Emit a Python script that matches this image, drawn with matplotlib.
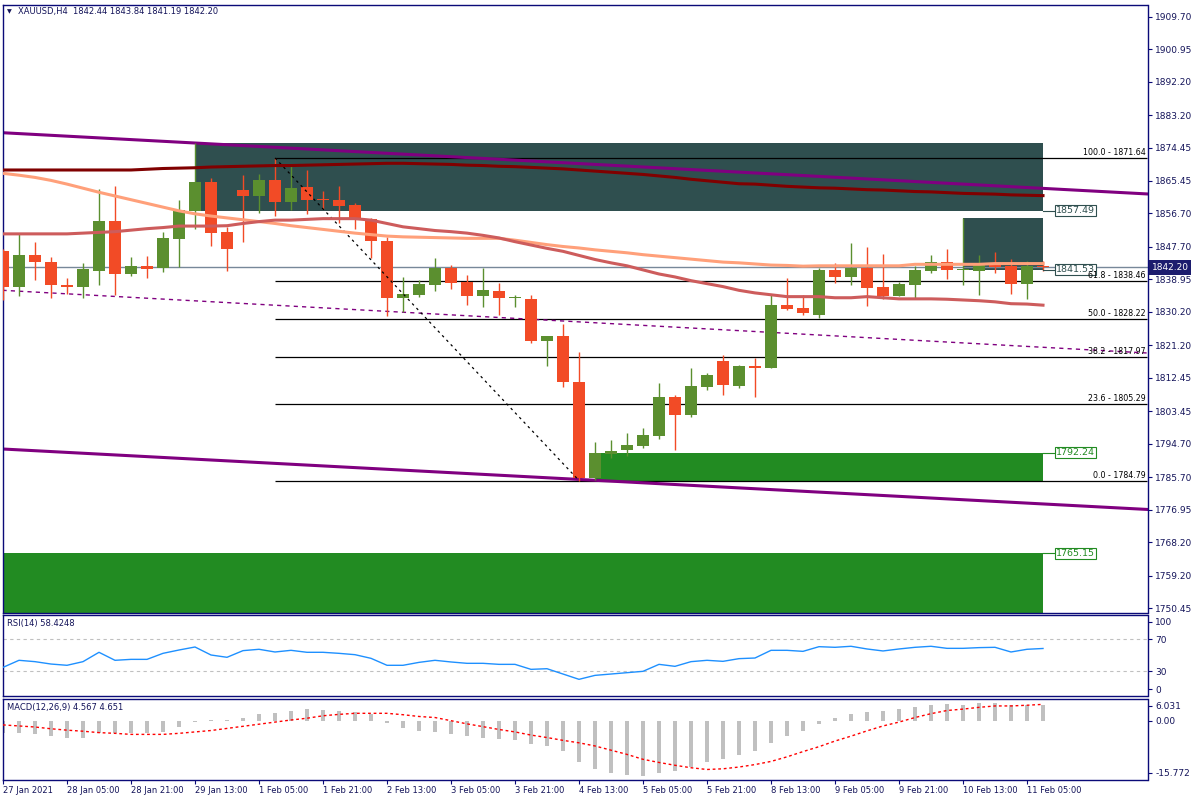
import matplotlib
matplotlib.use("Agg")
import matplotlib.pyplot as plt
from matplotlib.patches import Rectangle
import matplotlib.transforms as mtrans

plt.rcParams['font.family'] = ['DejaVu Sans']

# ---------------- data ----------------
symbol_header = "XAUUSD,H4  1842.44 1843.84 1841.19 1842.20"
rsi_header = "RSI(14) 58.4248"
macd_header = "MACD(12,26,9) 4.567 4.651"

time_tick_bars = [0, 4, 8, 12, 16, 20, 24, 28, 32, 36, 40, 44, 48, 52, 56, 60, 64]
time_tick_labels = ['27 Jan 2021', '28 Jan 05:00', '28 Jan 21:00', '29 Jan 13:00',
                    '1 Feb 05:00', '1 Feb 21:00', '2 Feb 13:00', '3 Feb 05:00',
                    '3 Feb 21:00', '4 Feb 13:00', '5 Feb 05:00', '5 Feb 21:00',
                    '8 Feb 13:00', '9 Feb 05:00', '9 Feb 21:00', '10 Feb 13:00',
                    '11 Feb 05:00']

opens = [1846.6, 1837.0, 1845.5, 1843.6, 1837.5, 1837.0, 1841.3, 1854.7, 1840.5, 1842.6,
         1842.1, 1849.9, 1857.49, 1865.2, 1851.7, 1863.0, 1861.5, 1865.7, 1859.9, 1863.8,
         1860.6, 1860.3, 1859.0, 1855.2, 1849.3, 1834.0, 1834.7, 1837.5, 1842.1, 1838.3,
         1834.6, 1835.8, 1833.8, 1833.7, 1822.4, 1823.7, 1811.4, 1785.4, 1792.0, 1793.1,
         1794.2, 1796.9, 1807.3, 1802.5, 1810.1, 1817.0, 1810.3, 1815.6, 1815.2, 1832.1,
         1831.2, 1829.4, 1841.5, 1839.6, 1842.0, 1836.9, 1834.5, 1837.4, 1841.2, 1843.6,
         1841.53, 1841.2, 1843.1, 1842.6, 1837.7, 1842.44]
highs = [1847.1, 1851.2, 1849.0, 1845.0, 1839.3, 1843.4, 1863.3, 1864.1, 1845.0, 1845.2,
         1851.7, 1860.3, 1875.67, 1866.2, 1853.1, 1867.1, 1867.3, 1871.64, 1869.7, 1868.4,
         1862.7, 1864.1, 1859.5, 1855.5, 1850.4, 1839.6, 1838.8, 1844.7, 1842.8, 1840.1,
         1842.1, 1838.0, 1834.7, 1834.7, 1823.7, 1826.9, 1819.4, 1795.2, 1795.7, 1797.6,
         1798.9, 1811.1, 1807.8, 1815.1, 1813.7, 1818.6, 1815.9, 1817.9, 1835.0, 1839.3,
         1834.7, 1842.0, 1843.4, 1848.7, 1847.7, 1845.8, 1838.2, 1842.6, 1845.5, 1847.1,
         1855.47, 1845.5, 1846.3, 1844.4, 1843.9, 1843.84]
lows = [1833.4, 1834.6, 1838.9, 1833.8, 1834.9, 1834.0, 1837.5, 1834.8, 1839.9, 1839.4,
        1840.8, 1842.3, 1852.6, 1847.8, 1841.3, 1849.1, 1856.9, 1856.0, 1857.6, 1856.6,
        1857.9, 1854.1, 1852.5, 1844.7, 1829.2, 1830.2, 1834.3, 1835.8, 1836.4, 1832.1,
        1831.6, 1829.4, 1831.6, 1821.9, 1815.7, 1810.1, 1784.79, 1784.9, 1790.9, 1791.5,
        1793.6, 1796.1, 1793.1, 1802.0, 1809.2, 1807.9, 1809.8, 1807.4, 1815.0, 1830.7,
        1829.4, 1828.6, 1838.0, 1837.4, 1831.8, 1833.7, 1834.4, 1833.7, 1840.7, 1839.1,
        1837.4, 1834.7, 1840.7, 1835.0, 1833.7, 1841.19]
closes = [1837.0, 1845.5, 1843.7, 1837.3, 1837.0, 1841.7, 1854.7, 1840.5, 1842.6, 1841.8,
          1850.1, 1857.6, 1865.2, 1851.5, 1847.2, 1861.5, 1865.7, 1859.9, 1863.6, 1860.3,
          1860.3, 1858.8, 1854.9, 1849.4, 1833.8, 1835.0, 1837.7, 1842.1, 1838.1, 1834.6,
          1836.1, 1833.8, 1834.2, 1822.4, 1823.7, 1811.4, 1785.6, 1792.24, 1792.7, 1794.4,
          1797.1, 1807.3, 1802.5, 1810.2, 1813.2, 1810.6, 1815.6, 1815.2, 1832.1, 1831.0,
          1829.9, 1841.5, 1839.6, 1842.0, 1836.6, 1834.5, 1837.7, 1841.5, 1843.6, 1841.5,
          1841.75, 1843.1, 1842.3, 1837.7, 1842.44, 1842.20]

ma_slow = [1868.4, 1868.4, 1868.4, 1868.4, 1868.4, 1868.4, 1868.4, 1868.4, 1868.4, 1868.6,
           1868.8, 1868.9, 1869.0, 1869.2, 1869.3, 1869.4, 1869.5, 1869.6, 1869.6, 1869.7,
           1869.8, 1869.9, 1870.0, 1870.1, 1870.2, 1870.2, 1870.1, 1870.0, 1869.9, 1869.7,
           1869.6, 1869.4, 1869.3, 1869.1, 1868.9, 1868.7, 1868.4, 1868.1, 1867.8, 1867.5,
           1867.2, 1866.8, 1866.4, 1865.9, 1865.5, 1865.1, 1864.7, 1864.6, 1864.3, 1864.0,
           1863.8, 1863.6, 1863.5, 1863.3, 1863.1, 1863.0, 1862.8, 1862.6, 1862.5, 1862.3,
           1862.1, 1862.0, 1861.9, 1861.7, 1861.6, 1861.5]
ma_mid = [1867.5, 1867.0, 1866.4, 1865.6, 1864.6, 1863.5, 1862.4, 1861.4, 1860.4, 1859.4,
          1858.4, 1857.4, 1856.6, 1856.0, 1855.5, 1855.0, 1854.5, 1854.0, 1853.4, 1852.9,
          1852.4, 1851.9, 1851.4, 1851.0, 1850.6, 1850.4, 1850.3, 1850.2, 1850.1, 1850.0,
          1850.0, 1850.0, 1849.5, 1848.9, 1848.3, 1847.8, 1847.4, 1846.9, 1846.5, 1846.1,
          1845.6, 1845.2, 1844.8, 1844.4, 1844.0, 1843.6, 1843.4, 1843.1, 1842.8, 1842.7,
          1842.5, 1842.6, 1842.6, 1842.6, 1842.6, 1842.6, 1842.6, 1843.0, 1843.0, 1843.0,
          1843.0, 1843.0, 1843.2, 1843.2, 1843.2, 1843.2]
ma_fast = [1851.2, 1851.2, 1851.2, 1851.2, 1851.2, 1851.4, 1851.6, 1851.8, 1852.2, 1852.6,
           1852.9, 1853.3, 1853.3, 1853.3, 1853.4, 1854.0, 1854.5, 1854.9, 1854.9, 1855.1,
           1855.3, 1855.3, 1855.3, 1854.9, 1854.0, 1853.1, 1852.6, 1852.1, 1851.8, 1851.4,
           1850.8, 1850.1, 1849.1, 1848.2, 1847.3, 1846.5, 1845.4, 1844.3, 1843.4, 1842.6,
           1841.5, 1840.4, 1839.6, 1838.6, 1837.8, 1837.0, 1836.0, 1835.3, 1834.8, 1834.3,
           1834.3, 1834.3, 1834.0, 1834.0, 1834.3, 1834.0, 1833.7, 1833.7, 1833.7, 1833.6,
           1833.4, 1833.2, 1832.9, 1832.4, 1832.3, 1832.0]

rsi = [34.6, 43.5, 41.8, 38.8, 37.2, 41.8, 53.6, 43.5, 44.7, 44.7,
       52.3, 56.5, 60.3, 50.2, 47.3, 55.7, 57.4, 54.0, 56.1, 53.6,
       53.6, 52.3, 50.6, 46.0, 37.2, 37.2, 40.9, 43.5, 41.4, 39.7,
       39.7, 38.4, 38.4, 32.1, 32.9, 26.2, 19.5, 24.5, 26.2, 27.9,
       29.6, 38.4, 35.9, 41.8, 43.5, 42.2, 45.6, 46.4, 56.1, 56.1,
       54.8, 60.7, 59.9, 61.2, 57.8, 55.3, 57.8, 59.9, 61.2, 58.6,
       58.6, 59.5, 59.9, 54.0, 57.4, 58.4248]
rsi_levels = [70, 30]

macd_main = [-3.4, -3.4, -3.8, -4.3, -4.8, -4.8, -3.6, -3.6, -3.6, -3.6,
             -3.1, -1.7, -0.4, 0.2, 0.2, 0.9, 1.9, 2.3, 2.8, 3.2,
             3.0, 2.8, 2.5, 1.8, -0.8, -2.1, -2.9, -3.2, -3.7, -4.4,
             -4.8, -5.2, -5.4, -6.7, -7.2, -8.6, -11.8, -13.7, -14.9, -15.4,
             -15.7, -14.9, -14.3, -13.1, -11.7, -10.8, -9.8, -8.6, -6.3, -4.4,
             -2.9, -1.0, 0.9, 1.9, 2.5, 2.8, 3.4, 3.9, 4.5, 4.8,
             4.6, 4.9, 4.9, 4.6, 4.6, 4.567]
macd_signal = [-1.2, -1.5, -1.8, -2.3, -2.7, -3.0, -3.4, -3.6, -3.9, -3.9,
               -3.9, -3.6, -3.2, -2.8, -2.2, -1.6, -1.0, -0.4, 0.2, 0.7,
               1.4, 1.8, 2.1, 2.1, 2.1, 1.7, 1.2, 0.9, 0.0, -0.9,
               -1.7, -2.5, -3.2, -4.1, -4.8, -5.6, -6.3, -7.2, -8.4, -9.6,
               -11.0, -11.9, -12.7, -13.4, -13.9, -13.7, -13.2, -12.5, -11.6, -10.3,
               -8.8, -7.4, -5.8, -4.4, -2.9, -1.5, -0.4, 0.9, 2.0, 2.9,
               3.3, 3.8, 4.2, 4.2, 4.4, 4.651]

# trendline anchors: (bar, price) pairs
trend_upper = [(0, 1878.43), (65, 1863.45)]
trend_lower = [(0, 1793.27), (65, 1778.48)]
trend_dashed = [(0, 1836.0), (65, 1820.66)]

# fibonacci
fib_anchor_bars = [17, 36]
fib_ratios = ['100.0', '61.8', '50.0', '38.2', '23.6', '0.0']
fib_prices = [1871.64, 1838.46, 1828.22, 1817.97, 1805.29, 1784.79]

# zones: start bar, end bar, top, bottom, labelled price
zone_starts = [12, 60, 37, -5]
zone_ends = [65, 65, 65, 65]
zone_tops = [1875.67, 1855.47, 1792.24, 1765.15]
zone_bottoms = [1857.49, 1841.53, 1784.79, 1740.0]
zone_label_prices = [1857.49, 1841.53, 1792.24, 1765.15]
zone_kinds = ['supply', 'supply', 'demand', 'demand']

last_price = 1842.20
price_ticks = [1909.70, 1900.95, 1892.20, 1883.20, 1874.45, 1865.45, 1856.70, 1847.70,
               1838.95, 1830.20, 1821.20, 1812.45, 1803.45, 1794.70, 1785.70, 1776.95,
               1768.20, 1759.20, 1750.45]

# ---------------- style ----------------
W, H = 1200, 800
NAVY = '#0a0a78'
TXT = '#14145a'
BULL = '#5b8f2f'
BEAR = '#f24b26'
SLATE = '#2f4f4f'
FOREST = '#228b22'
FS = 6
RIGHT_PX = 1147.5

fig = plt.figure(figsize=(12, 8), dpi=100)
fig.patch.set_facecolor('white')


def fx(p):
    return p / W


def fy(p):
    return 1 - p / H


def add_panel(top, bottom):
    return fig.add_axes([fx(2.5), fy(bottom), (RIGHT_PX - 2.5) / W, (bottom - top) / H])


ax = add_panel(4.5, 612.5)
ax_rsi = add_panel(614.5, 695.5)
ax_macd = add_panel(698.5, 779.5)

XL, XR = -0.031, (RIGHT_PX - 3) / 16.0
for a in (ax, ax_rsi, ax_macd):
    a.set_xlim(XL, XR)
    a.set_facecolor('white')
    for s in a.spines.values():
        s.set_color(NAVY)
        s.set_linewidth(1.0)
    a.yaxis.tick_right()
    a.tick_params(axis='y', direction='out', length=3, width=0.8, pad=2.5,
                  labelsize=6.5, colors=NAVY, labelcolor=TXT)
    a.tick_params(axis='x', bottom=False, labelbottom=False)

# ---------------- main panel ----------------
ax.set_ylim(1749.25, 1912.96)
ax.set_yticks(price_ticks)
ax.set_yticklabels(['%.2f' % v for v in price_ticks])

zone_colors = {'supply': SLATE, 'demand': FOREST}
for s, e, t, b, lp, k in zip(zone_starts, zone_ends, zone_tops, zone_bottoms,
                              zone_label_prices, zone_kinds):
    col = zone_colors[k]
    ax.add_patch(Rectangle((s, b), e - s, t - b, facecolor=col, edgecolor='none', zorder=1))
    ax.plot([e, e + 0.72], [lp, lp], color=col, lw=0.8, zorder=5)
    ax.text(e + 0.82, lp, '%.2f' % lp, color=col, fontsize=6.8, va='center', ha='left',
            zorder=6,
            bbox=dict(boxstyle='square,pad=0.12', facecolor='white', edgecolor=col, lw=0.8))

# fib levels
for r, p in zip(fib_ratios, fib_prices):
    ax.hlines(p, fib_anchor_bars[0], XR, color='black', lw=0.9, zorder=1.5)
    ax.text(XR - 0.1, p + 0.25, '%s - %.2f' % (r, p), ha='right', va='bottom',
            fontsize=5.7, color='black', zorder=6)
ax.plot(fib_anchor_bars, [fib_prices[0], fib_prices[-1]], color='black', lw=0.9,
        dashes=(2, 3), zorder=4)

# bid line
ax.axhline(last_price, color='#778899', lw=1.0, zorder=1.6)

# trendlines
ax.axline(trend_upper[0], trend_upper[1], color='#800080', lw=2.2, zorder=2.5)
ax.axline(trend_lower[0], trend_lower[1], color='#800080', lw=2.2, zorder=2.5)
ax.axline(trend_dashed[0], trend_dashed[1], color='#800080', lw=1.0, dashes=(3, 3), zorder=2.5)

# candles
bw = 0.69
for i, (o, h, l, c) in enumerate(zip(opens, highs, lows, closes)):
    col = BULL if c >= o else BEAR
    ax.vlines(i, l, h, color=col, lw=1.0, zorder=3)
    lo = min(o, c)
    hh = max(abs(c - o), 0.3)
    ax.add_patch(Rectangle((i - bw / 2, lo), bw, hh, facecolor=col, edgecolor='none', zorder=3.1))

# moving averages
bars = list(range(len(closes)))
ax.plot(bars, ma_slow, color='#800000', lw=2.2, zorder=4)
ax.plot(bars, ma_mid, color='#ffa07a', lw=2.2, zorder=4)
ax.plot(bars, ma_fast, color='#cd5c5c', lw=2.2, zorder=4)

# current price tag
blend = mtrans.blended_transform_factory(ax.transAxes, ax.transData)
ax.text(1.0 + 4.0 / (RIGHT_PX - 2.5), last_price, '%.2f' % last_price, transform=blend,
        color='white', fontsize=6.5, va='center', ha='left', zorder=10, clip_on=False,
        bbox=dict(boxstyle='square,pad=0.3', facecolor='#1c1c6e', edgecolor='none'))

# header
fig.text(fx(6.5), fy(11.5), '\u25bc', fontsize=4.5, color=TXT, va='center', ha='left')
fig.text(fx(18), fy(11.5), symbol_header, fontsize=FS, color=TXT, va='center', ha='left')

# ---------------- RSI ----------------
ax_rsi.set_ylim(-0.9, 101.3)
ax_rsi.plot(bars, rsi, color='#1e90ff', lw=1.0, zorder=3)
for lv in rsi_levels:
    ax_rsi.axhline(lv, color='#c0c0c0', lw=0.8, dashes=(3, 3), zorder=1)
ax_rsi.set_yticks([92.2, 70, 30, 6.9])
ax_rsi.set_yticklabels(['100', '70', '30', '0'])
fig.text(fx(7), fy(623.5), rsi_header, fontsize=FS, color=TXT, va='center', ha='left')

# ---------------- MACD ----------------
ax_macd.set_ylim(-16.75, 6.32)
ax_macd.bar(bars, macd_main, width=0.19, color='#c0c0c0', zorder=2)
ax_macd.plot(bars, macd_signal, color='#ff0000', lw=1.0, dashes=(2, 2), zorder=3)
ax_macd.set_yticks([4.19, 0.0, -14.8])
ax_macd.set_yticklabels(['6.031', '0.00', '-15.772'])
fig.text(fx(7), fy(707.5), macd_header, fontsize=FS, color=TXT, va='center', ha='left')

ax_macd.tick_params(axis='x', bottom=True, labelbottom=True, direction='out', length=3,
                    width=0.8, pad=2, labelsize=FS, colors=NAVY, labelcolor=TXT)
ax_macd.set_xticks(time_tick_bars)
ax_macd.set_xticklabels(time_tick_labels, ha='left')

fig.savefig('out.png', dpi=100, facecolor='white')
